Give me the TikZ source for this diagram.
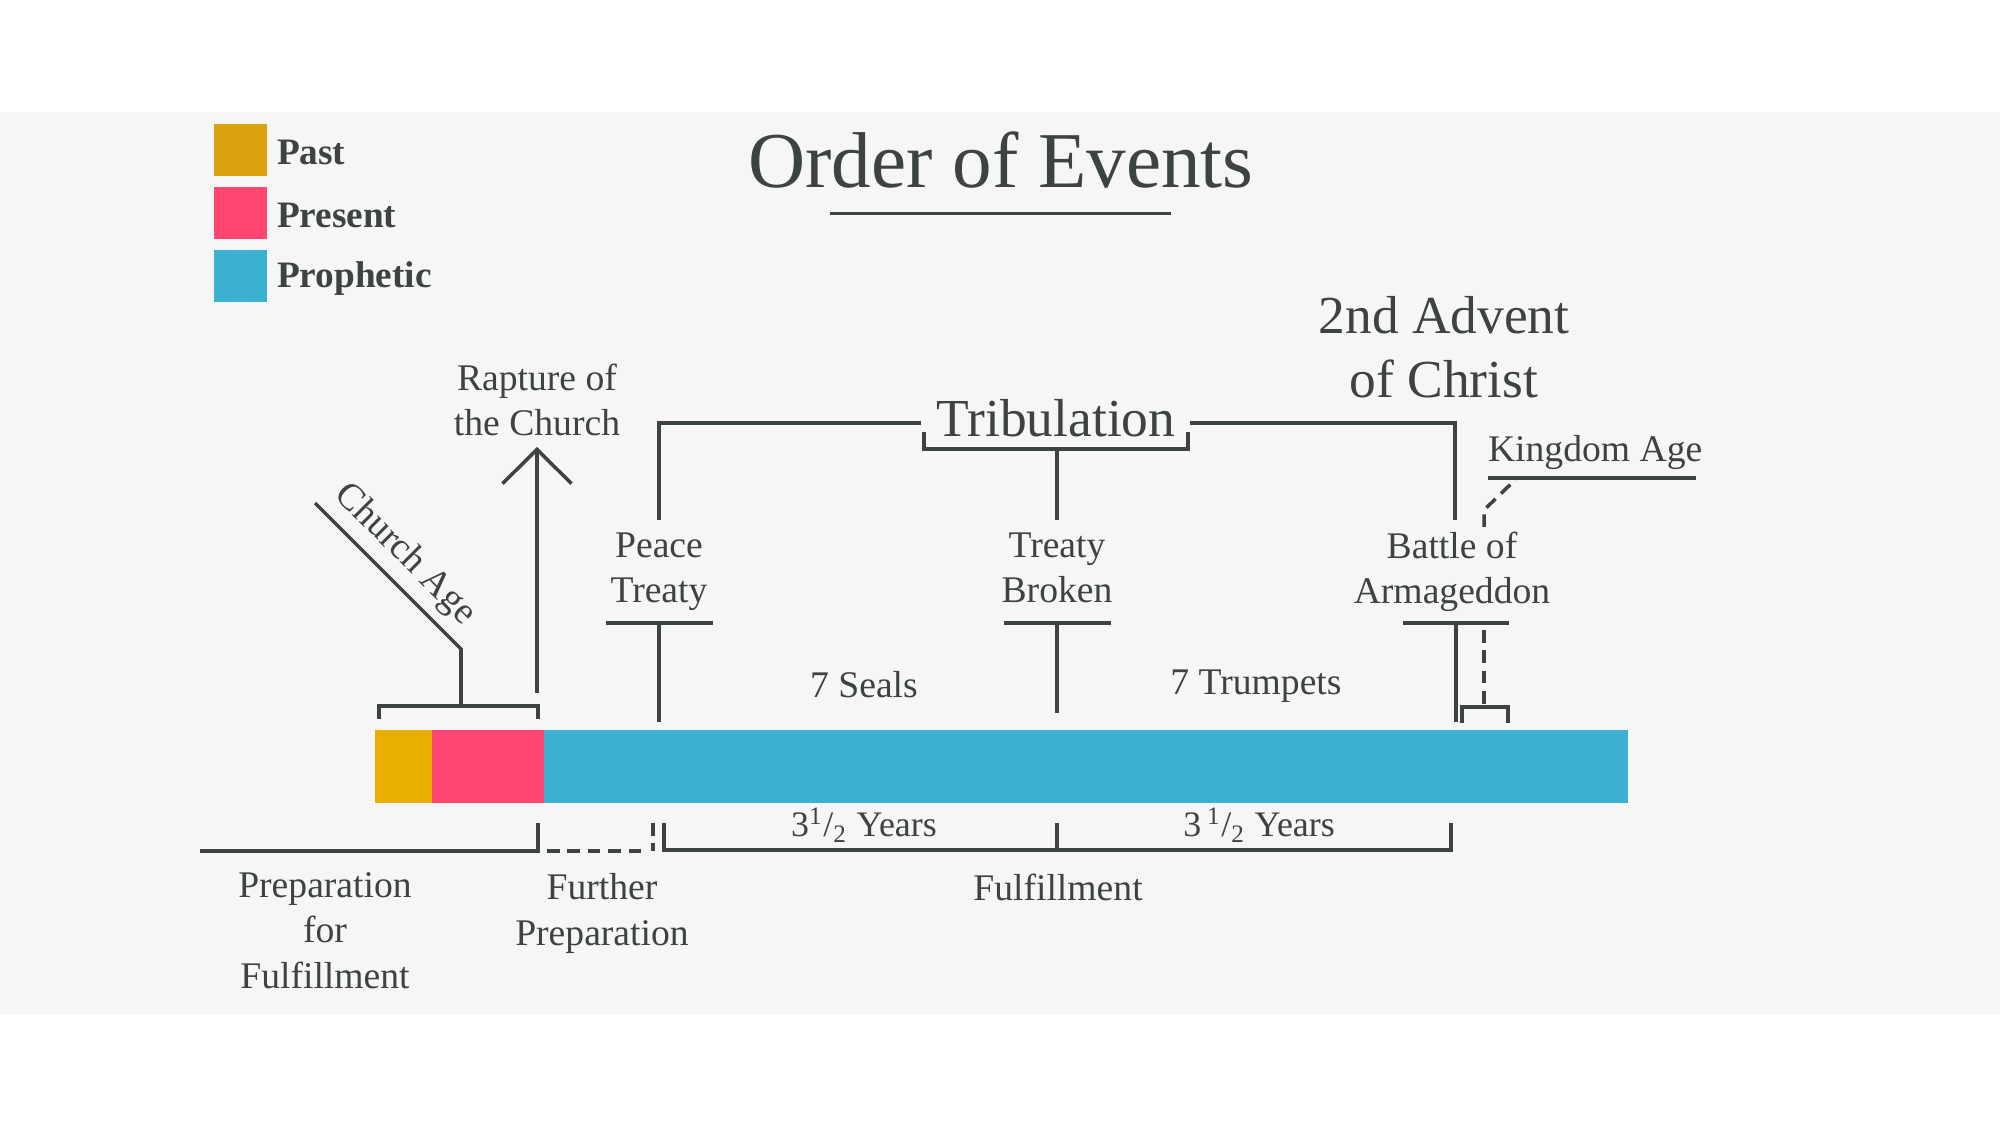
\documentclass[tikz,border=0pt]{standalone}
\usepackage{fontspec}
\setmainfont{Liberation Serif}
\usetikzlibrary{arrows.meta}
\definecolor{ink}{HTML}{3D4242}
\definecolor{paper}{HTML}{F6F6F6}
\definecolor{past}{HTML}{DBA20D}
\definecolor{pastbar}{HTML}{E8AE00}
\definecolor{present}{HTML}{FF4771}
\definecolor{prophetic}{HTML}{3DB1D0}

\begin{document}
\begin{tikzpicture}[x=0.01cm,y=-0.01cm,line width=1pt,draw=ink,text=ink,
  >={Straight Barb[length=9.7pt,width=19.6pt]}]
  \tikzstyle{every node}=[inner sep=0pt,outer sep=0pt]
  \tikzstyle{evtext}=[font=\fontsize{10.7}{12.8}\selectfont,align=center,anchor=base]
  \tikzstyle{bigtext}=[font=\fontsize{15.2}{18.2}\selectfont,align=center,anchor=base]
  \tikzstyle{keytext}=[font=\fontsize{10.6}{12}\selectfont\bfseries,anchor=base west]
  \tikzstyle{dashline}=[dash pattern=on 3.6pt off 2.2pt]

  \useasboundingbox (0,0) rectangle (2000,1125);
  \fill[white] (0,0) rectangle (2000,1125);
  \fill[paper] (0,112) rectangle (2000,1014);

  % legend
  \fill[past] (214,124) rectangle (267,176);
  \fill[present] (214,187) rectangle (267,239);
  \fill[prophetic] (214,250) rectangle (267,302);
  \node[keytext] (kpast) at (277,165) {Past};
  \node[keytext] (kpresent) at (277,228) {Present};
  \node[keytext] (kprophetic) at (277,288) {Prophetic};

  \node[anchor=base,font=\fontsize{22.5}{27}\selectfont] (title) at (1001,188) {Order of Events};
  \draw[line width=0.85pt] (830,214) -- (1171,214);

  % the time line
  \fill[pastbar] (375,730) rectangle (432,803);
  \fill[present] (432,730) rectangle (544,803);
  \fill[prophetic] (544,730) rectangle (1628,803);

  % multi-line nodes sit on the baseline of their last line
  \node[evtext] (rapture) at (537,436) {Rapture of\\the Church};
  \node[evtext] (peace) at (659,603) {Peace\\Treaty};
  \node[bigtext] (trib) at (1056,437) {Tribulation};
  \node[evtext] (broken) at (1057,603) {Treaty\\Broken};
  \node[bigtext] (advent) at (1444,398) {2nd Advent\\of Christ};
  \node[evtext] (battle) at (1452,604) {Battle of\\Armageddon};
  \node[evtext,anchor=base west] (kingdom) at (1488,462) {Kingdom Age};
  \node[evtext,rotate=-45,anchor=center] (church) at (405,555) {Church Age};
  \node[evtext] (seals) at (864,698) {7 Seals};
  \node[evtext] (trumpets) at (1256,695) {7 Trumpets};

  \coordinate (churchfoot) at (461,706);
  \coordinate (churchend) at (315,503);
  \coordinate (raptfoot) at (537,693);
  \coordinate (rapttip) at (537,447);

  \draw (379,719) -- (379,706) -- (538,706) -- (538,719);
  \draw (churchfoot) -- (461,649) -- (churchend);
  \draw[->] (raptfoot) -- (rapttip);

  \draw (606,623) -- (713,623) (659,623) -- (659,722);
  \draw (659,520) -- (659,423) -- (921,423);
  \draw (924,432) -- (924,449) -- (1188,449) -- (1188,432);
  \draw (1057,449) -- (1057,520);
  \draw (1190,423) -- (1455,423) -- (1455,520);
  \draw (1004,623) -- (1111,623) (1057,623) -- (1057,713);
  \draw (1403,623) -- (1509,623) (1456,623) -- (1456,722);
  \draw[dashline] (1484,630) -- (1484,707);
  \draw (1462,723) -- (1462,707) -- (1508,707) -- (1508,723);
  \draw[dashline] (1484,527) -- (1484,510) -- (1516,479);
  \draw (1488,478) -- (1696,478);

  % below the line
  \node[evtext,font=\fontsize{10.2}{12}\selectfont] (yearsA) at (864,837) {3\textsuperscript{1}/\textsubscript{2} Years};
  \node[evtext,font=\fontsize{10.2}{12}\selectfont] (yearsB) at (1259,837) {3\,\textsuperscript{1}/\textsubscript{2} Years};
  \draw (200,851) -- (538,851) -- (538,823);
  \draw[dashline] (547,851) -- (645,851);
  \draw[dashline] (653,823) -- (653,851);
  \draw (664,823) -- (664,850) -- (1451,850) -- (1451,823);
  \draw (1057,850) -- (1057,823);
  \node[evtext] (prep) at (325,988) {Preparation\\for\\Fulfillment};
  \node[evtext] (further) at (602,945) {Further\\Preparation};
  \node[evtext] (fulfil) at (1058,900) {Fulfillment};
\end{tikzpicture}
\end{document}
